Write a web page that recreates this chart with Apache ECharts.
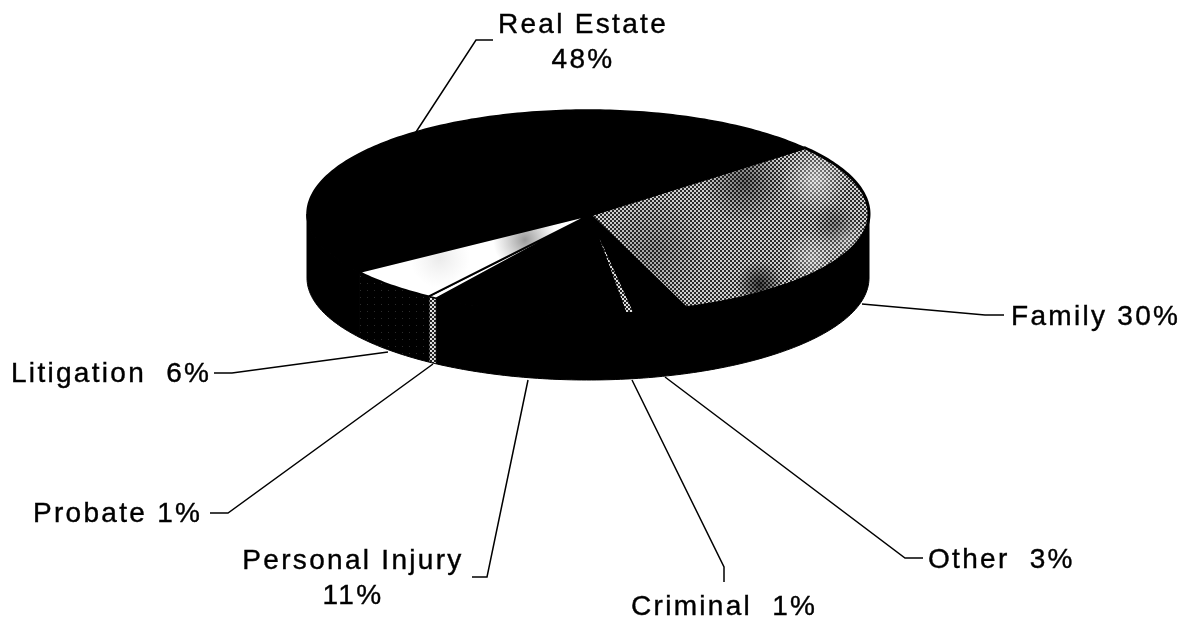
<!DOCTYPE html>
<html>
<head>
<meta charset="utf-8">
<style>html,body{margin:0;padding:0;background:#fff}#c{width:1186px;height:620px}</style>
<script src="https://cdn.jsdelivr.net/npm/echarts@6/dist/echarts.min.js"></script>
</head>
<body>
<div id="c"></div>
<script>
// Data, in drawing order, clockwise from the Family slice
const categories = ['Family', 'Other', 'Criminal', 'Personal Injury', 'Probate', 'Litigation', 'Real Estate'];
const values = [30.0, 3.0, 0.5, 11.1, 0.5, 5.5, 48.4];
const labelTexts = ['Family 30%', 'Other  3%', 'Criminal  1%', 'Personal Injury\n11%', 'Probate 1%', 'Litigation  6%', 'Real Estate\n48%'];

// Layout and style
const PIE = { cx: 588, apexX: 590, apexY: 215, rx: 281, topY: 214, ryBack: 104, ryFront: 100, botY: 278, ryBot: 102, startDeg: -39.5 };
const FONT = { size: 28, family: '"Liberation Sans", Arial, sans-serif', spacing: '2.3px', lineHeight: 35 };
const leaders = [
  [[862,304],[985,315],[1004,315]],
  [[665,377],[905,558],[923,558]],
  [[632,380],[724,567],[724,582]],
  [[528,380],[487,577],[472,577]],
  [[433,364],[228,513],[210,513]],
  [[388,352],[232,373],[214,373]],
  [[416,132],[476,40],[493,40]]
];
const labelPos = [
  { x: 1011, y: 317, align: 'left' },
  { x: 928, y: 560, align: 'left' },
  { x: 631, y: 607, align: 'left' },
  { x: 353, y: 579, align: 'center' },
  { x: 33, y: 514, align: 'left' },
  { x: 11, y: 374, align: 'left' },
  { x: 583, y: 43, align: 'center' }
];

// Canvas letter spacing, as in the wide-set labels of the original
['fillText', 'strokeText'].forEach(name => {
  const native = CanvasRenderingContext2D.prototype[name];
  CanvasRenderingContext2D.prototype[name] = function () {
    this.letterSpacing = FONT.spacing;
    return native.apply(this, arguments);
  };
});

function texture(base, dark, light, cell, blotches) {
  const cv = document.createElement('canvas');
  cv.width = 1186; cv.height = 620;
  const g = cv.getContext('2d');
  g.fillStyle = base; g.fillRect(0, 0, 1186, 620);
  if (dark) {
    for (let y = 0; y < 620; y += cell) for (let x = 0; x < 1186; x += cell) {
      g.fillStyle = ((x + y) / cell) % 2 ? dark : light;
      g.fillRect(x, y, cell, cell);
    }
  }
  blotches.forEach(b => {
    const r = g.createRadialGradient(b[0], b[1], 0, b[0], b[1], b[2]);
    r.addColorStop(0, b[3]); r.addColorStop(1, b[4]);
    g.fillStyle = r; g.fillRect(b[0] - b[2], b[1] - b[2], 2 * b[2], 2 * b[2]);
  });
  return { image: cv, repeat: 'no-repeat' };
}
function sparseDots() {
  const cv = document.createElement('canvas');
  cv.width = 7; cv.height = 7;
  const g = cv.getContext('2d');
  g.fillStyle = '#000'; g.fillRect(0, 0, 7, 7);
  g.fillStyle = '#2c2c2c'; g.fillRect(3, 3, 1, 1);
  return { image: cv, repeat: 'repeat' };
}
const familyFill = texture('#888', '#2a2a2a', '#cfcfcf', 2, [
  [815, 180, 34, 'rgba(255,255,255,.5)', 'rgba(255,255,255,0)'],
  [845, 240, 24, 'rgba(255,255,255,.3)', 'rgba(255,255,255,0)'],
  [812, 258, 28, 'rgba(255,255,255,.4)', 'rgba(255,255,255,0)'],
  [745, 182, 42, 'rgba(0,0,0,.45)', 'rgba(0,0,0,0)'],
  [760, 285, 24, 'rgba(0,0,0,.7)', 'rgba(0,0,0,0)'],
  [835, 225, 22, 'rgba(0,0,0,.35)', 'rgba(0,0,0,0)'],
  [655, 250, 55, 'rgba(0,0,0,.25)', 'rgba(0,0,0,0)']
]);
const litigationFill = texture('#fff', null, null, 2, [
  [525, 240, 32, 'rgba(120,120,120,.75)', 'rgba(150,150,150,0)'],
  [440, 258, 30, 'rgba(120,120,120,.15)', 'rgba(150,150,150,0)']
]);
const checker = texture('#888', '#222', '#ddd', 2, []);
const dots = sparseDots();

const topFills = ['family', '#000', 'criminal', '#000', '#fff', 'litigation', '#000'];
const wallFills = ['#000', '#000', '#000', '#000', 'probate', 'dots', '#000'];
const faceStroke = [3, 1.5, 2, 1.5, 1.5, 2, 1.5];
function resolve(f) {
  return { family: familyFill, criminal: checker, litigation: litigationFill, probate: checker, dots: dots }[f] || f;
}

const total = values.reduce((a, b) => a + b, 0);
const rad = d => d * Math.PI / 180;
function topPoint(d) {
  const s = Math.sin(rad(d));
  return [PIE.cx + PIE.rx * Math.cos(rad(d)), PIE.topY + (s < 0 ? PIE.ryBack : PIE.ryFront) * s];
}
function botPoint(d) {
  return [PIE.cx + PIE.rx * Math.cos(rad(d)), PIE.botY + PIE.ryBot * Math.sin(rad(d))];
}
function arc(fn, a, b) {
  const pts = [];
  for (let d = a; d < b; d += 1) pts.push(fn(d));
  pts.push(fn(b));
  return pts;
}

function renderSlice(params, api) {
  const i = params.dataIndex;
  let before = 0;
  for (let k = 0; k < i; k++) before += values[k];
  const a0 = PIE.startDeg + before / total * 360;
  const a1 = a0 + api.value(0) / total * 360;
  const children = [];
  // outer wall: only the part turned toward the viewer
  const w0 = Math.max(a0, 0), w1 = Math.min(a1, 180);
  if (w1 > w0) {
    const wall = arc(topPoint, w0, w1).concat(arc(botPoint, w0, w1).reverse());
    children.push({ type: 'polygon', z2: 1, shape: { points: wall },
      style: { fill: resolve(wallFills[i]), stroke: '#000', lineWidth: 1 } });
  }
  const face = [[PIE.apexX, PIE.apexY]].concat(arc(topPoint, a0, a1));
  children.push({ type: 'polygon', z2: i === 0 ? 4 : (topFills[i] === '#000' ? 2 : 3), shape: { points: face },
    style: { fill: resolve(topFills[i]), stroke: '#000', lineWidth: faceStroke[i], lineJoin: 'miter' } });
  children.push({ type: 'polyline', z2: 5, shape: { points: leaders[i] },
    style: { fill: null, stroke: '#000', lineWidth: 1.5 } });
  children.push({ type: 'text', z2: 6, style: {
    text: labelTexts[i], x: labelPos[i].x, y: labelPos[i].y,
    align: labelPos[i].align, verticalAlign: 'middle', fill: '#000',
    stroke: '#000', lineWidth: 0.4,
    font: FONT.size + 'px ' + FONT.family, lineHeight: FONT.lineHeight
  } });
  return { type: 'group', children };
}

const chart = echarts.init(document.getElementById('c'), null, { renderer: 'canvas', width: 1186, height: 620 });
chart.setOption({
  animation: false,
  backgroundColor: '#fff',
  series: [{
    type: 'custom',
    coordinateSystem: 'none',
    renderItem: renderSlice,
    silent: true,
    data: values.map((v, i) => ({ name: categories[i], value: [v] }))
  }]
});
</script>
</body>
</html>
